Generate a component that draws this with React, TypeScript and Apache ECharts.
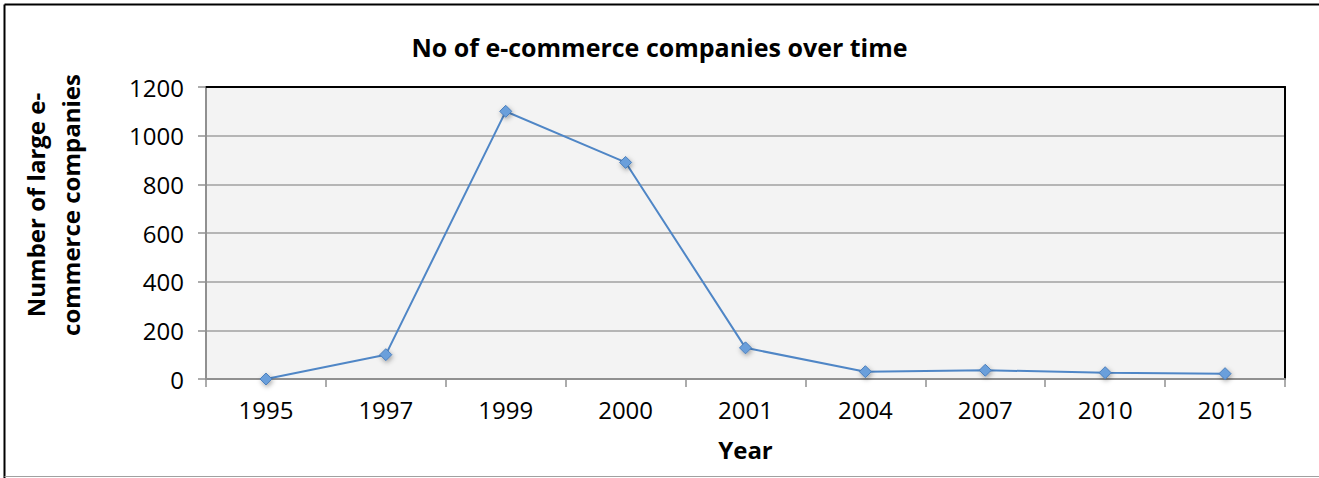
import React, { useEffect, useRef } from "react";
import * as echarts from "echarts";

const years = ["1995", "1997", "1999", "2000", "2001", "2004", "2007", "2010", "2015"];
const companies = [0, 100, 1100, 890, 128, 30, 36, 26, 22];
const yTicks = { min: 0, max: 1200, interval: 200 };
const titleText = "No of e-commerce companies over time";
const xName = "Year";
const yName = "Number of large e-\ncommerce companies";

const FONT = "'Open Sans', 'Noto Sans', sans-serif";

export default function App() {
  const ref = useRef<HTMLDivElement>(null);
  useEffect(() => {
    const chart = echarts.init(ref.current!, null, { renderer: "svg" });
    chart.setOption({
      animation: false,
      backgroundColor: "#ffffff",
      textStyle: { fontFamily: FONT },
      title: {
        text: titleText,
        left: "center",
        top: 34,
        padding: 0,
        textStyle: { fontFamily: FONT, fontSize: 25, fontWeight: "bold", color: "#000" },
      },
      grid: {
        left: 206,
        right: 34,
        top: 87,
        bottom: 99,
        show: true,
        backgroundColor: "#f3f3f3",
        borderWidth: 0,
      },
      graphic: [
        { type: "line", shape: { x1: 4.5, y1: 4.5, x2: 1319, y2: 4.5 }, style: { stroke: "#000", lineWidth: 2 } },
        { type: "line", shape: { x1: 4.5, y1: 4.5, x2: 4.5, y2: 478 }, style: { stroke: "#000", lineWidth: 2 } },
        { type: "line", shape: { x1: 4.5, y1: 476.5, x2: 1319, y2: 476.5 }, style: { stroke: "#a0a0a0", lineWidth: 1 } },
      ],
      xAxis: [
        {
          type: "category",
          data: years,
          boundaryGap: true,
          name: xName,
          nameLocation: "middle",
          nameGap: 58,
          nameTextStyle: { fontFamily: FONT, fontSize: 24, fontWeight: "bold", color: "#000" },
          axisLine: { onZero: false, lineStyle: { color: "#909090", width: 2 } },
          axisTick: { show: true, inside: false, length: 8, alignWithLabel: false, lineStyle: { color: "#909090", width: 1.5 } },
          axisLabel: { fontFamily: FONT, fontSize: 24, color: "#000", margin: 18 },
          splitLine: { show: false },
        },
        {
          type: "category",
          data: years,
          position: "top",
          axisLine: { onZero: false, lineStyle: { color: "#000", width: 2 } },
          axisTick: { show: false },
          axisLabel: { show: false },
          splitLine: { show: false },
        },
      ],
      yAxis: [
        {
          type: "value",
          min: yTicks.min,
          max: yTicks.max,
          interval: yTicks.interval,
          name: yName,
          nameLocation: "middle",
          nameRotate: 90,
          nameGap: 118,
          nameTextStyle: {
            fontFamily: FONT,
            fontSize: 24,
            fontWeight: "bold",
            color: "#000",
            lineHeight: 35,
            padding: [0, 0, 0, 56],
          },
          axisLine: { show: true, onZero: false, lineStyle: { color: "#909090", width: 2 } },
          axisTick: { show: true, inside: false, length: 8, lineStyle: { color: "#909090", width: 1.5 } },
          axisLabel: { fontFamily: FONT, fontSize: 24, color: "#000", margin: 22, formatter: (v: number) => String(v) },
          splitLine: { show: true, lineStyle: { color: "#a0a0a0", width: 1.5 } },
        },
        {
          type: "value",
          position: "right",
          min: yTicks.min,
          max: yTicks.max,
          interval: yTicks.interval,
          axisLine: { show: true, onZero: false, lineStyle: { color: "#000", width: 2 } },
          axisTick: { show: false },
          axisLabel: { show: false },
          splitLine: { show: false },
        },
      ],
      series: [
        {
          type: "line",
          data: companies,
          symbol: "diamond",
          symbolSize: 12,
          lineStyle: { color: "#4f86c6", width: 2 },
          itemStyle: {
            color: "#6a9fdb",
            borderColor: "#4a7ebb",
            borderWidth: 1,
            shadowBlur: 5,
            shadowColor: "rgba(0,0,0,0.35)",
            shadowOffsetX: 1,
            shadowOffsetY: 2,
          },
        },
      ],
    });
    return () => chart.dispose();
  }, []);
  return (
    <div
      ref={ref}
      style={{ position: "absolute", left: 0, top: 0, width: 1319, height: 478 }}
    />
  );
}
